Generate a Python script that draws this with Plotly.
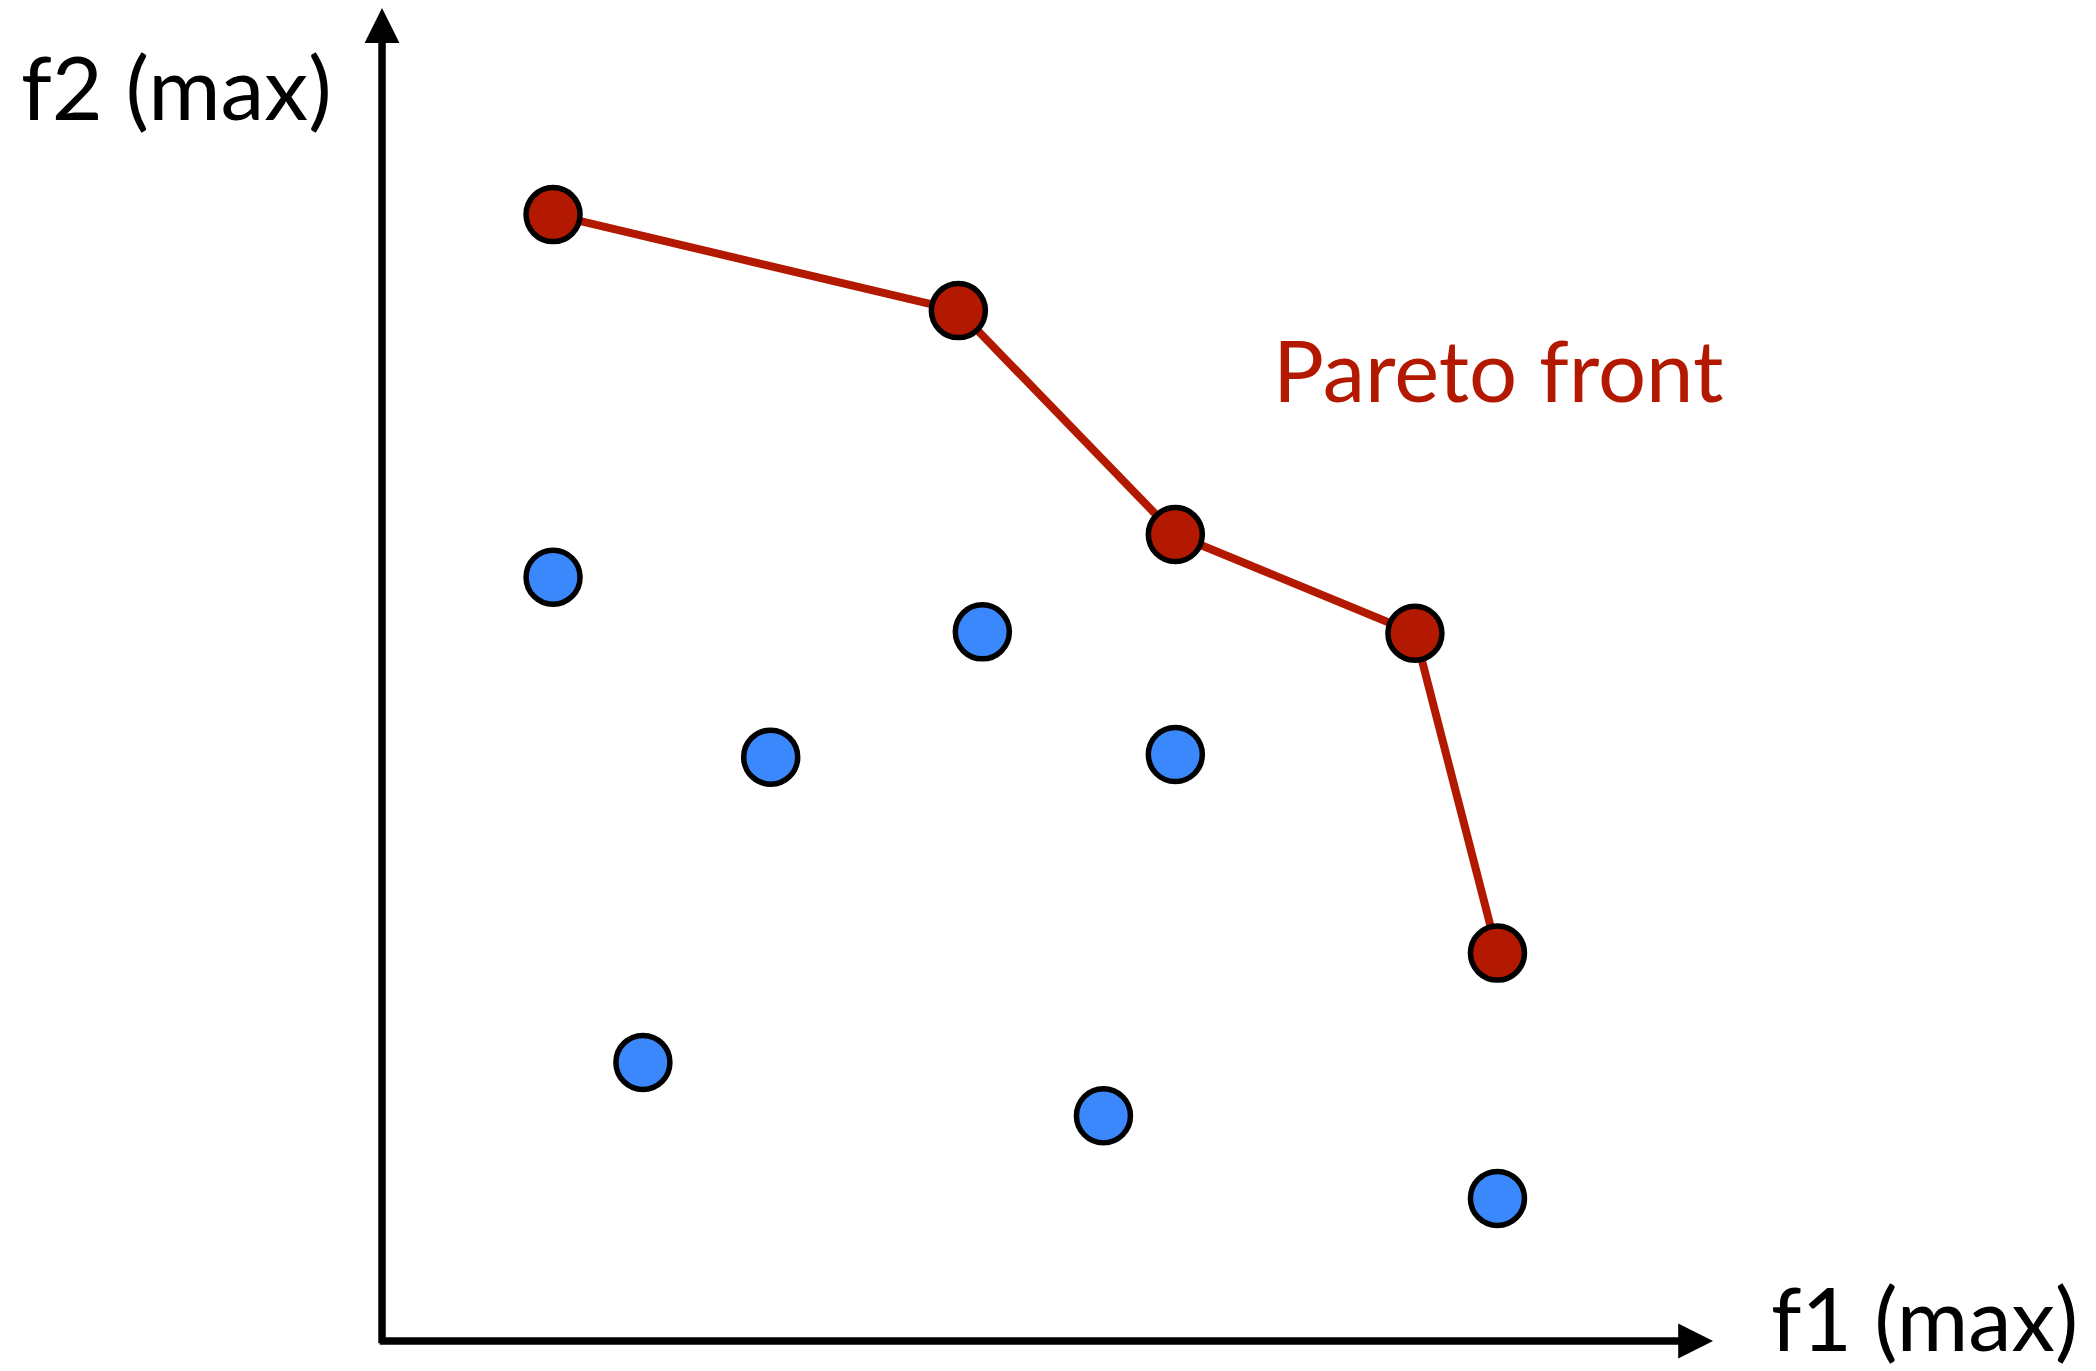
import plotly.graph_objects as go

# ---- data ----
pareto_f1 = [1.285, 4.33, 5.96, 7.76, 8.38]
pareto_f2 = [8.45, 7.73, 6.05, 5.31, 2.91]

other_f1 = [1.285, 4.51, 2.92, 5.96, 1.96, 5.42, 8.38]
other_f2 = [5.73, 5.32, 4.38, 4.40, 2.09, 1.69, 1.07]

x_label = "f1 (max)"
y_label = "f2 (max)"
front_label = "Pareto front"

# ---- style ----
W, H = 2096, 1371
RED = "#B31800"
BLUE = "#3B88FD"
FONT = "Lato"
X_RANGE = [-2.810, 12.937]
Y_RANGE = [-0.285, 10.0]
AXIS_END = 10
AXIS_W = 7.5

fig = go.Figure()

fig.add_trace(go.Scatter(
    x=other_f1, y=other_f2, mode="markers",
    marker=dict(size=54, color=BLUE, line=dict(color="black", width=5.5)),
    hoverinfo="skip",
))
fig.add_trace(go.Scatter(
    x=pareto_f1, y=pareto_f2, mode="lines+markers",
    line=dict(color=RED, width=8),
    marker=dict(size=54, color=RED, line=dict(color="black", width=5.5)),
    hoverinfo="skip",
))

px_per_x = W / (X_RANGE[1] - X_RANGE[0])
px_per_y = H / (Y_RANGE[1] - Y_RANGE[0])
half_x = (AXIS_W / 2) / px_per_x
half_y = (AXIS_W / 2) / px_per_y

# axes with arrowheads
fig.add_annotation(x=AXIS_END, y=0, ax=-half_x, ay=0, xref="x", yref="y",
                   axref="x", ayref="y", text="", showarrow=True,
                   arrowhead=2, arrowsize=0.93, arrowwidth=AXIS_W, arrowcolor="black")
fig.add_annotation(x=0, y=AXIS_END, ax=0, ay=-half_y, xref="x", yref="y",
                   axref="x", ayref="y", text="", showarrow=True,
                   arrowhead=2, arrowsize=0.93, arrowwidth=AXIS_W, arrowcolor="black")

# labels
fig.add_annotation(x=11 / W, y=1 - 78 / H, xref="paper", yref="paper",
                   text=y_label, showarrow=False, xanchor="left", yanchor="middle",
                   font=dict(family=FONT, size=88, color="black"))
fig.add_annotation(x=1761 / W, y=1 - 1309 / H, xref="paper", yref="paper",
                   text=x_label, showarrow=False, xanchor="left", yanchor="middle",
                   font=dict(family=FONT, size=87, color="black"))
fig.add_annotation(x=1263 / W, y=1 - 361 / H, xref="paper", yref="paper",
                   text=front_label, showarrow=False, xanchor="left", yanchor="middle",
                   font=dict(family=FONT, size=85, color=RED))

fig.update_layout(
    width=W, height=H,
    margin=dict(l=0, r=0, t=0, b=0),
    paper_bgcolor="white", plot_bgcolor="white",
    showlegend=False,
    xaxis=dict(range=X_RANGE, visible=False, fixedrange=True),
    yaxis=dict(range=Y_RANGE, visible=False, fixedrange=True),
)

fig.write_html("out.html")
